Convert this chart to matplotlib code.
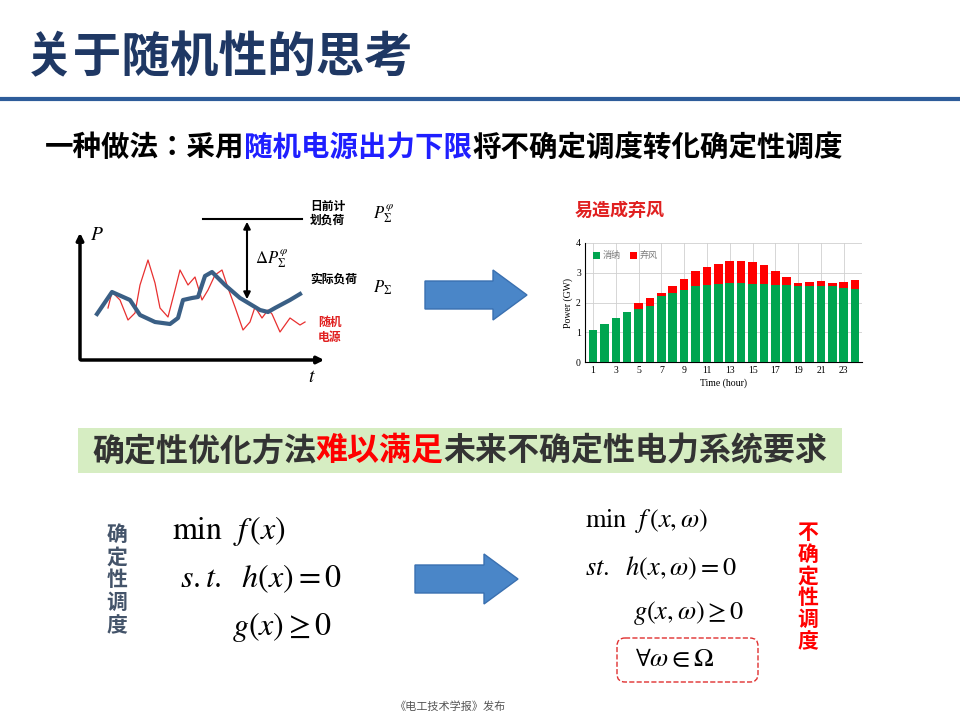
import matplotlib.pyplot as plt
from matplotlib.patches import FancyArrow, FancyBboxPatch, Rectangle

plt.rcParams['font.family'] = ['Noto Sans CJK JP', 'Noto Sans SC', 'DejaVu Sans']
plt.rcParams['mathtext.fontset'] = 'stix'

# bar chart data (GW)
hours = list(range(1, 25))
absorbed = [1.08, 1.28, 1.48, 1.68, 1.78, 1.88, 2.22, 2.32, 2.42, 2.55, 2.60, 2.62,
            2.65, 2.65, 2.62, 2.62, 2.60, 2.60, 2.55, 2.56, 2.55, 2.55, 2.50, 2.47]
total = [1.08, 1.28, 1.48, 1.68, 2.00, 2.15, 2.33, 2.55, 2.80, 3.05, 3.18, 3.30,
         3.40, 3.40, 3.37, 3.27, 3.05, 2.85, 2.67, 2.70, 2.73, 2.67, 2.70, 2.77]
curtailed = [t - a for t, a in zip(total, absorbed)]
xticks = [1, 3, 5, 7, 9, 11, 13, 15, 17, 19, 21, 23]

# schematic curves (slide pixel coordinates)
load_x = [97, 112, 130, 140, 155, 170, 178, 183, 192, 198, 205, 212, 225, 240, 250, 260, 268, 275, 290, 300]
load_y = [314, 292, 300, 315, 322, 324, 318, 300, 298, 297, 276, 272, 285, 298, 304, 310, 312, 308, 300, 294]
wind_x = [108, 112, 120, 128, 135, 140, 148, 155, 160, 168, 175, 180, 188, 195, 202, 208, 215, 222, 228,
          235, 243, 250, 255, 262, 268, 272, 280, 290, 300, 305]
wind_y = [308, 292, 300, 320, 313, 285, 260, 283, 308, 317, 290, 270, 285, 277, 300, 290, 275, 270, 288,
          307, 330, 322, 307, 318, 310, 314, 332, 318, 325, 322]

fig = plt.figure(figsize=(9.6, 7.2), dpi=100)
ax = fig.add_axes([0, 0, 1, 1])
ax.set_xlim(0, 960)
ax.set_ylim(720, 0)
ax.axis('off')

navy = '#1F3864'
# title
ax.text(25, 58, '关于随机性的思考', fontsize=35, fontweight='bold', color=navy, va='center')
ax.plot([0, 960], [99, 99], color='#2E5C9A', lw=3)


def colored_line(x, y, parts, size):
    # consecutive text pieces, each CJK glyph one em wide
    em = size * 100 / 72
    for s, c in parts:
        ax.text(x, y, s, fontsize=size, fontweight='bold', color=c, va='center')
        x += em * len(s)


colored_line(45, 148, [('一种做法：采用', 'black'), ('随机电源出力下限', '#1F1FFF'),
                       ('将不确定调度转化确定性调度', 'black')], 20.5)

# schematic
ax.annotate('', xy=(80, 230), xytext=(80, 362), arrowprops=dict(arrowstyle='-|>', lw=2.5, color='black'))
ax.annotate('', xy=(327, 360), xytext=(78, 360), arrowprops=dict(arrowstyle='-|>', lw=2.5, color='black'))
ax.plot(wind_x, wind_y, color='#E83030', lw=0.9)
ax.plot(load_x, load_y, color='#3A5F85', lw=3)
ax.plot([203, 302], [219, 219], color='black', lw=1.5)
ax.annotate('', xy=(247, 219), xytext=(247, 302), arrowprops=dict(arrowstyle='<|-|>', lw=1.5, color='black'))
ax.text(90, 235, '$P$', fontsize=14, va='center')
ax.text(308, 377, '$t$', fontsize=14, va='center')
ax.text(310, 213, '日前计\n划负荷', fontsize=8.5, fontweight='bold', va='center', linespacing=1.1)
ax.text(310, 279, '实际负荷', fontsize=8.5, fontweight='bold', va='center')
ax.text(318, 330, '随机\n电源', fontsize=8.5, fontweight='bold', color='#E02020', va='center', linespacing=1.2)
ax.text(373, 214, r'$P_\Sigma^{\varphi}$', fontsize=12, va='center')
ax.text(373, 288, r'$P_\Sigma$', fontsize=12, va='center')
ax.text(255, 259, r'$\Delta P_\Sigma^{\varphi}$', fontsize=12, va='center')

# block arrows
for x0, x1, yc in [(425, 527, 295), (415, 518, 579)]:
    ax.add_patch(FancyArrow(x0, yc, x1 - x0, 0, width=28, head_width=50, head_length=34,
                            length_includes_head=True, fc='#4A86C8', ec='#3A70B0', lw=1))

ax.text(575, 210, '易造成弃风', fontsize=13, fontweight='bold', color='#E02020', va='center')

# green banner
ax.add_patch(Rectangle((78, 428), 764, 45, fc='#D6EDC2', ec='none'))
colored_line(92, 451, [('确定性优化方法', '#333333'), ('难以满足', '#FF0000'),
                       ('未来不确定性电力系统要求', '#333333')], 23)

# formulas
mfs = 23
ax.text(172, 531, r'$\mathrm{min}\ \ f\,(x)$', fontsize=mfs, va='center')
ax.text(180, 579, r'$s.t.\ \ h(x)=0$', fontsize=mfs, va='center')
ax.text(232, 627, r'$g(x)\geq 0$', fontsize=mfs, va='center')
rfs = 19
ax.text(585, 521, r'$\mathrm{min}\ \ f\,(x,\omega)$', fontsize=rfs, va='center')
ax.text(585, 568, r'$st.\ \ h(x,\omega)=0$', fontsize=rfs, va='center')
ax.text(633, 613, r'$g(x,\omega)\geq 0$', fontsize=rfs, va='center')
ax.text(635, 659, r'$\forall\omega\in\Omega$', fontsize=rfs, va='center')
ax.add_patch(FancyBboxPatch((617, 638), 141, 44, boxstyle='round,pad=0,rounding_size=8',
                            fc='none', ec='#E03030', lw=1, ls='--'))

ax.text(117, 580, '\n'.join('确定性调度'), fontsize=15, fontweight='bold', color='#44546A',
        ha='center', va='center', linespacing=1.1)
ax.text(808, 587, '\n'.join('不确定性调度'), fontsize=15, fontweight='bold', color='#FF0000',
        ha='center', va='center', linespacing=1.05)

ax.text(450, 707, '《电工技术学报》发布', fontsize=8, color='#555555', ha='center', va='center')

# bar chart
bx = fig.add_axes([585 / 960, (720 - 362) / 720, 277 / 960, 119 / 720])
bx.bar(hours, absorbed, width=0.75, color='#00A550', label='消纳', zorder=3)
bx.bar(hours, curtailed, bottom=absorbed, width=0.75, color='#FF0000', label='弃风', zorder=3)
bx.set_xlim(0.3, 24.6)
bx.set_ylim(0, 4)
bx.set_yticks([0, 1, 2, 3, 4])
bx.set_xticks(xticks)
bx.grid(True, color='#D0D0D0', lw=0.6, zorder=0)
for s in ['top', 'right']:
    bx.spines[s].set_visible(False)
bx.tick_params(length=0, labelsize=7, pad=3)
for lab in bx.get_xticklabels() + bx.get_yticklabels():
    lab.set_fontfamily('Liberation Serif')
bx.set_xlabel('Time (hour)', fontsize=7, family='Liberation Serif', labelpad=2)
bx.set_ylabel('Power (GW)', fontsize=7, family='Liberation Serif', labelpad=2)
bx.legend(loc='upper left', ncol=2, fontsize=6.5, frameon=False, handlelength=0.8,
          handleheight=0.8, columnspacing=1.0, handletextpad=0.3, labelcolor='#777777')

fig.savefig('out.png', dpi=100)
